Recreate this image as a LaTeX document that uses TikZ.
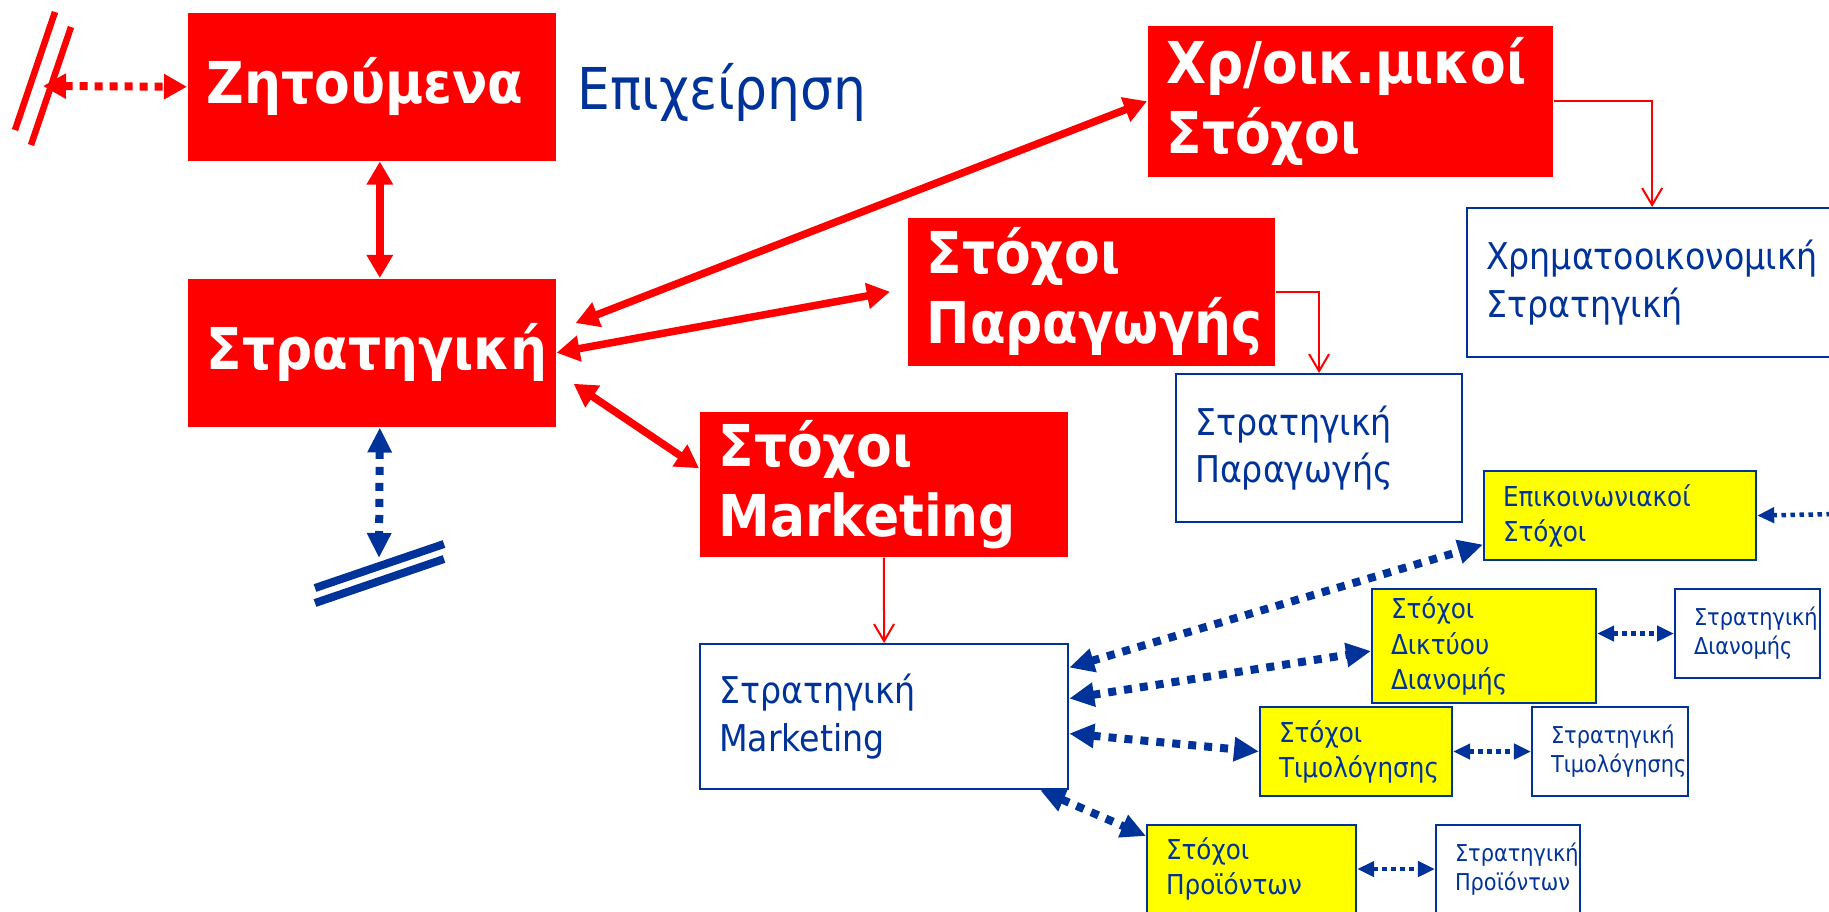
\documentclass[tikz,border=0pt]{standalone}
\usepackage{fontspec}
\setmainfont{DejaVu Sans}[FakeStretch=0.9]
\usepackage{xcolor}
\usepackage{tikz}
\usetikzlibrary{arrows.meta}
\definecolor{goalred}{RGB}{255,0,0}
\definecolor{stratblue}{RGB}{0,51,153}
\definecolor{goalyellow}{RGB}{255,255,0}
\hyphenpenalty=10000

\begin{document}
\begin{tikzpicture}[x=0.01cm, y=-0.01cm,
  redbox/.style={fill=goalred, text=white, anchor=north west, inner xsep=0.19cm, inner ysep=0pt, align=left, font=\bfseries\fontsize{16.4}{19.9}\selectfont},
  stratbox/.style={draw=stratblue, line width=0.02cm, fill=white, text=stratblue, anchor=north west, inner xsep=0.19cm, inner ysep=0pt, align=left, font=\fontsize{10.5}{13.4}\selectfont},
  yellowbox/.style={stratbox, fill=goalyellow, font=\fontsize{7.8}{10}\selectfont},
  smallbox/.style={stratbox, font=\fontsize{6.6}{8.25}\selectfont},
  redarrow/.style={goalred, line width=0.075cm, {Triangle[length=0.23cm,width=0.25cm]}-{Triangle[length=0.23cm,width=0.25cm]}},
  reddots/.style={goalred, line width=0.08cm, dash pattern=on 0.08cm off 0.07cm, {Triangle[length=0.23cm,width=0.24cm]}-{Triangle[length=0.23cm,width=0.24cm]}},
  thinred/.style={goalred, line width=0.02cm, -{Straight Barb[length=0.17cm,width=0.2cm]}},
  bluedots/.style={stratblue, line width=0.08cm, dash pattern=on 0.08cm off 0.08cm, {Triangle[length=0.25cm,width=0.23cm]}-{Triangle[length=0.25cm,width=0.23cm]}},
  bluedotsmall/.style={stratblue, line width=0.045cm, dash pattern=on 0.045cm off 0.045cm, >={Triangle[length=0.17cm,width=0.15cm]}}]
\path[use as bounding box, clip] (0,0) rectangle (1829,911);

% Red goal boxes
\node[redbox, text width=3.30cm, minimum height=1.48cm] (zit) at (187,12) {Ζητούμενα};
\node[redbox, text width=3.30cm, minimum height=1.48cm] (strat) at (187,278) {Στρατηγική};
\node[redbox, text width=3.67cm, minimum height=1.51cm] (xrst) at (1147,25) {Χρ/οικ.μικοί\\Στόχοι};
\node[redbox, text width=3.29cm, minimum height=1.48cm] (parag) at (907,217) {Στόχοι\\Παραγωγής};
\node[redbox, text width=3.30cm, minimum height=1.45cm] (mark) at (699,411) {Στόχοι\\Marketing};
\node[text=stratblue, anchor=base west, inner sep=0pt, font=\fontsize{16.4}{19.9}\selectfont] (firm) at (577,109) {Επιχείρηση};

% Strategy boxes
\node[stratbox, text width=3.32cm, minimum height=1.49cm] (fin) at (1466,207) {Χρηματοοικονομική\\Στρατηγική};
\node[stratbox, text width=2.48cm, minimum height=1.48cm] (spar) at (1175,373) {Στρατηγική\\Παραγωγής};
\node[stratbox, text width=3.30cm, minimum height=1.45cm] (smark) at (699,643) {Στρατηγική\\Marketing};

% Marketing sub-goals
\node[yellowbox, text width=2.34cm, minimum height=0.89cm] (epik) at (1483,470) {Επικοινωνιακοί\\Στόχοι};
\node[yellowbox, text width=1.86cm, minimum height=1.14cm] (dikt) at (1371,588) {Στόχοι\\Δικτύου\\Διανομής};
\node[yellowbox, text width=1.54cm, minimum height=0.89cm] (timol) at (1259,706) {Στόχοι\\Τιμολόγησης};
\node[yellowbox, text width=1.71cm, minimum height=0.88cm] (proi) at (1146,824) {Στόχοι\\Προϊόντων};
\node[smallbox, text width=1.07cm, minimum height=0.89cm] (sdian) at (1674,588) {Στρατηγική\\Διανομής};
\node[smallbox, text width=1.18cm, minimum height=0.89cm] (stim) at (1531,706) {Στρατηγική\\Τιμολόγησης};
\node[smallbox, text width=1.06cm, minimum height=0.88cm] (sproi) at (1435,824) {Στρατηγική\\Προϊόντων};

% Cut marks
\coordinate (redcut) at (43,86);
\coordinate (bluecut) at (379,558);
\coordinate (epikcut) at (1840,514);
\draw[goalred, line width=0.065cm] (15,130) -- (55,12);
\draw[goalred, line width=0.065cm] (31,145) -- (71,27);
\draw[stratblue, line width=0.08cm] (315,588) -- (444,544);
\draw[stratblue, line width=0.08cm] (315,603) -- (444,559);

% Red links
\draw[reddots] (redcut) -- (zit.west);
\draw[redarrow] ([xshift=0.08cm]zit.south) -- ([xshift=0.08cm]strat.north);
\draw[redarrow] ([shift={(19,45)}]strat.north east) -- (xrst.west);
\draw[redarrow] (strat.east) -- ([xshift=-0.17cm]parag.west);
\draw[redarrow] ([shift={(17,31)}]strat.east) -- ([shift={(0,-16)}]mark.west);
\draw[thinred] (xrst.east) -| (fin.north);
\draw[thinred] (parag.east) -| (spar.north);
\draw[thinred] (mark.south) -- (smark.north);

% Blue links
\draw[bluedots] ([xshift=0.08cm]strat.south) -- (bluecut);
\draw[bluedots] ([shift={(0,-49)}]smark.east) -- ([shift={(0,29)}]epik.west);
\draw[bluedots] ([shift={(0,-18)}]smark.east) -- ([shift={(0,5)}]dikt.west);
\draw[bluedots] ([shift={(0,17)}]smark.east) -- (timol.west);
\draw[bluedots] ([shift={(-29,0)}]smark.south east) -- ([shift={(0,12)}]proi.north west);
\draw[bluedotsmall, <->] (dikt.east |- sdian.west) -- (sdian.west);
\draw[bluedotsmall, <->] (timol.east) -- (stim.west);
\draw[bluedotsmall, <->] (proi.east) -- (sproi.west);
\draw[bluedotsmall, ->] (epikcut) -- (epik.east);
\end{tikzpicture}
\end{document}
